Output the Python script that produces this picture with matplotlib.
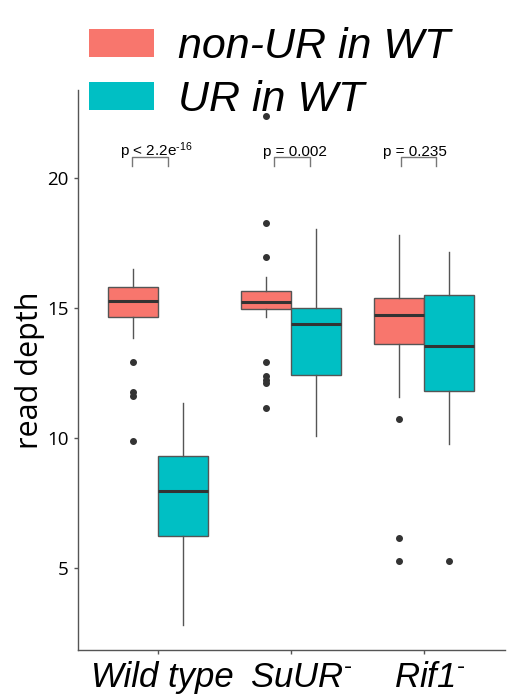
import matplotlib
matplotlib.use("Agg")
import matplotlib.pyplot as plt
import matplotlib.transforms as mtransforms
from matplotlib.patches import Patch

plt.rcParams['mathtext.fontset'] = 'custom'
plt.rcParams['mathtext.rm'] = 'Liberation Sans'
plt.rcParams['mathtext.it'] = 'Liberation Sans:italic'

groups = ['Wild type', r'SuUR$^{\text{-}}$', r'Rif1$^{\text{-}}$']
series = ['non-UR in WT', 'UR in WT']
colors = ['#F8766D', '#00BFC4']

# box stats: non-UR
nonur_lo = [13.83, 14.67, 11.59]
nonur_q1 = [14.67, 14.97, 13.60]
nonur_med = [15.27, 15.24, 14.73]
nonur_q3 = [15.82, 15.65, 15.38]
nonur_hi = [16.50, 16.18, 17.82]
nonur_out = [[12.93, 11.75, 11.62, 9.90],
             [22.38, 18.27, 16.96, 12.93, 12.38, 12.22, 12.10, 11.15],
             [10.73, 6.17, 5.27]]

# UR
ur_lo = [2.81, 10.08, 9.77]
ur_q1 = [6.23, 12.41, 11.82]
ur_med = [7.97, 14.40, 13.53]
ur_q3 = [9.32, 15.00, 15.50]
ur_hi = [11.36, 18.03, 17.17]
ur_out = [[], [], [5.27]]

pvals = [r'p < 2.2e$^{\text{-16}}$', 'p = 0.002', 'p = 0.235']
pval_x = [-0.01, 1.03, 1.93]
bracket_x = [(-0.195, 0.075), (0.872, 1.143), (1.825, 2.095)]


def make_stats(lo, q1, med, q3, hi, out):
    return [dict(whislo=lo[i], q1=q1[i], med=med[i], q3=q3[i], whishi=hi[i],
                 fliers=out[i]) for i in range(len(lo))]


fig = plt.figure(figsize=(5.08, 6.98), dpi=100)
ax = fig.add_axes([78/508, 48/698, (505-78)/508, (650-90)/698])

pos = range(len(groups))
off = 0.1875
for k, (st, c, sh) in enumerate([
        (make_stats(nonur_lo, nonur_q1, nonur_med, nonur_q3, nonur_hi, nonur_out), colors[0], -off),
        (make_stats(ur_lo, ur_q1, ur_med, ur_q3, ur_hi, ur_out), colors[1], off)]):
    ax.bxp(st, positions=[p + sh for p in pos], widths=0.375, patch_artist=True,
           showcaps=False,
           boxprops=dict(facecolor=c, edgecolor='#555555', linewidth=1),
           whiskerprops=dict(color='#555555', linewidth=1),
           medianprops=dict(color='#333333', linewidth=2.2),
           flierprops=dict(marker='o', markersize=4, markerfacecolor='#333333',
                           markeredgecolor='#333333'))

# significance brackets
for i, (x0, x1) in enumerate(bracket_x):
    ax.plot([x0, x0, x1, x1], [20.46, 20.81, 20.81, 20.46], color='#777777', lw=1)
    ax.text(pval_x[i], 20.85, pvals[i], ha='center', va='baseline',
            fontsize=11, family='Liberation Sans')

ax.set_xlim(-0.6, 2.61)
ax.set_ylim(1.85, 23.38)
ax.set_xticks(list(pos))
ax.set_xticklabels([])
# group labels, nudged right like the original
for i, (lab, dx) in enumerate(zip(groups, [5, 10, 6])):
    tr = ax.get_xaxis_transform() + mtransforms.ScaledTranslation(
        dx/100, -37/100, fig.dpi_scale_trans)
    ax.text(i, 0, lab, transform=tr, ha='center', va='baseline', fontsize=25,
            family='Liberation Sans', style='italic')
ax.set_yticks([5, 10, 15, 20])
ax.set_yticklabels(['5', '10', '15', '20'], fontsize=13.5, family='Open Sans')
ax.set_ylabel('read depth', fontsize=22, family='Open Sans', labelpad=2)
ax.tick_params(length=3, color='#555555', width=1)
for s in ['top', 'right']:
    ax.spines[s].set_visible(False)
for s in ['left', 'bottom']:
    ax.spines[s].set_color('#555555')
    ax.spines[s].set_linewidth(1)

handles = [Patch(facecolor=c, edgecolor='none') for c in colors]
fig.legend(handles, series, loc='upper left', bbox_to_anchor=(89/508, 1 - 27/698),
           frameon=False, prop=dict(family='Liberation Sans', style='italic', size=31),
           handlelength=1.5, handleheight=0.63, handletextpad=0.56,
           labelspacing=0.3, borderpad=0, borderaxespad=0)

fig.savefig('out.png', dpi=100)
